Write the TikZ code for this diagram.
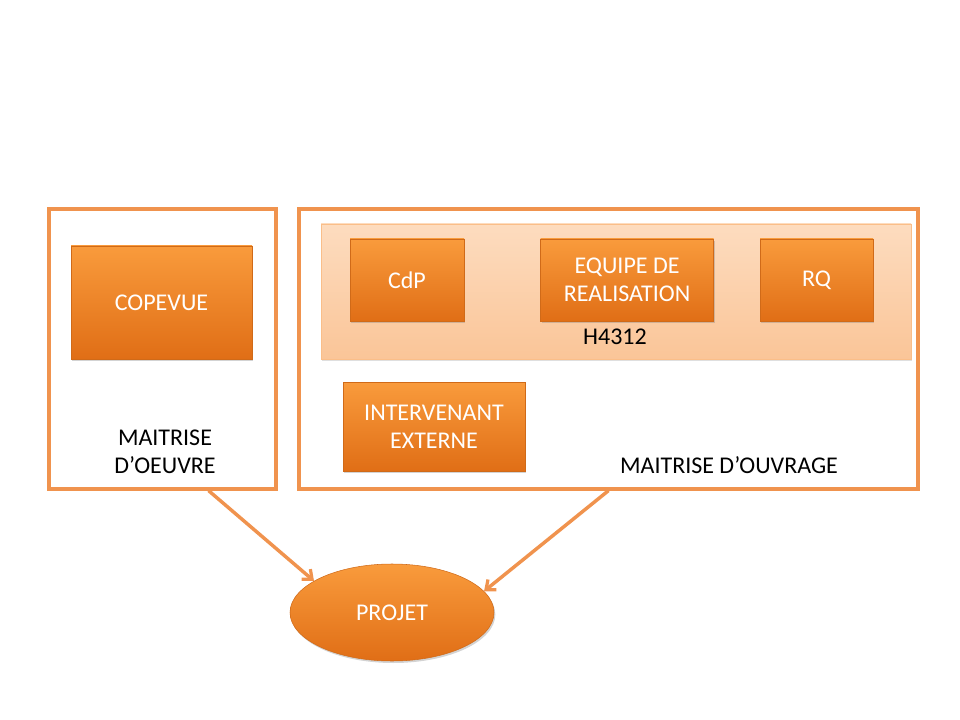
\documentclass[tikz,border=0pt]{standalone}
\usepackage{fontspec}
\setmainfont{Carlito}
\usepackage{xcolor}
\usepackage{tikz}
\usetikzlibrary{shapes.geometric, arrows.meta, positioning, shadows, calc}
\definecolor{orangeline}{HTML}{F0934E}
\definecolor{orangetop}{HTML}{F99B3C}
\definecolor{orangebot}{HTML}{E06E16}
\definecolor{orangeedge}{HTML}{D06A18}
\definecolor{peachtop}{HTML}{FDDCBF}
\definecolor{peachbot}{HTML}{FAC598}
\tikzset{
  % boxes
  obox/.style={rectangle, inner sep=0pt, text centered, align=center, draw=orangeedge, line width=0.4pt,
    top color=orangetop, bottom color=orangebot, text=white,
    drop shadow={opacity=0.35, shadow xshift=1pt, shadow yshift=-1.5pt}, font=\bigfont},
  groupbox/.style={rectangle, inner sep=0pt, draw=orangeline, line width=2.4pt},
  band/.style={rectangle, inner sep=0pt, draw=peachbot!90!orange, line width=0.6pt,
    top color=peachtop, bottom color=peachbot,
    drop shadow={opacity=0.25, shadow xshift=1pt, shadow yshift=-1.5pt}},
  label/.style={align=center, font=\bigfont, text=black},
  arrow/.style={-{Straight Barb[length=6pt, width=10pt, line width=2.4pt]}, draw=orangeline, line width=2.6pt},
}
\newcommand{\bigfont}{\fontsize{18}{21}\selectfont}

\begin{document}
\begin{tikzpicture}[x=0.75pt, y=-0.75pt]
    \useasboundingbox (0,0) rectangle (960,720);

    % Maitrise d'oeuvre
    \node[groupbox, minimum width=170.25pt, minimum height=210pt] (moe) at (162.5,349) {};
    \node[obox, minimum width=135.75pt, minimum height=84.75pt] (copevue) at (161.5,302.5) {COPEVUE};
    \node[label] (moetxt) at (165,452) {MAITRISE\\D’OEUVRE};

    % Maitrise d'ouvrage
    \node[groupbox, minimum width=464.25pt, minimum height=210pt] (moa) at (608.5,349) {};
    \node[band, minimum width=442.5pt, minimum height=101.25pt] (h4312) at (616,291.5) {};
    \node[obox, minimum width=85.5pt, minimum height=61.5pt] (cdp) at (407,280) {CdP};
    \node[obox, minimum width=129.75pt, minimum height=61.5pt, right=57pt of cdp] (equipe) {EQUIPE DE\\REALISATION};
    \node[obox, minimum width=84.75pt, minimum height=61.5pt, right=34.5pt of equipe] (rq) {RQ};
    \node[label] (h4312txt) at (615,337) {H4312};
    \node[obox, minimum width=136.5pt, minimum height=66.75pt] (interv) at (434,426.5) {INTERVENANT\\EXTERNE};
    \node[label] (moatxt) at (729,465) {MAITRISE D’OUVRAGE};

    % Projet
    \node[ellipse, inner sep=0pt, minimum width=153pt, minimum height=72.75pt, draw=orangeedge, line width=0.4pt,
      top color=orangetop, bottom color=orangebot, text=white, font=\bigfont,
      drop shadow={opacity=0.35, shadow xshift=1pt, shadow yshift=-1.5pt}] (projet) at (392,612.5) {PROJET};

    % Arrows
    \coordinate (moeout) at ($(moe.south west)!0.7!(moe.south east)$);
    \draw[arrow] (moeout) -- (projet.158);
    \draw[arrow] (moa.south) -- (projet.13);
\end{tikzpicture}
\end{document}
